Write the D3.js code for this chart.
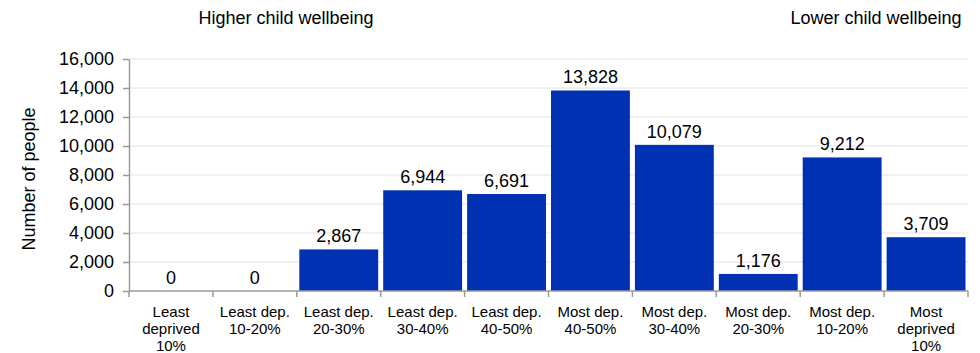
<!DOCTYPE html>
<html>
<head>
<meta charset="utf-8">
<script src="https://cdn.jsdelivr.net/npm/d3@7"></script>
<style>
  body { margin: 0; background: #fff; }
  svg { font-family: "Liberation Sans", Arial, sans-serif; }
</style>
</head>
<body>
<svg width="980" height="353"></svg>
<script>
// chart data
const categories = [
  ["Least", "deprived", "10%"],
  ["Least dep.", "10-20%"],
  ["Least dep.", "20-30%"],
  ["Least dep.", "30-40%"],
  ["Least dep.", "40-50%"],
  ["Most dep.", "40-50%"],
  ["Most dep.", "30-40%"],
  ["Most dep.", "20-30%"],
  ["Most dep.", "10-20%"],
  ["Most", "deprived", "10%"]
];
const people = [0, 0, 2867, 6944, 6691, 13828, 10079, 1176, 9212, 3709];
const yTicks = [0, 2000, 4000, 6000, 8000, 10000, 12000, 14000, 16000];

const svg = d3.select("svg");
const margin = {top: 59, right: 12, bottom: 62, left: 129};
const plotW = 980 - margin.left - margin.right;
const plotH = 353 - margin.top - margin.bottom;

const g = svg.append("g")
    .attr("transform", `translate(${margin.left}, ${margin.top})`);

const x = d3.scaleBand()
    .domain(d3.range(categories.length))
    .range([0, plotW])
    .paddingInner(0.06)
    .paddingOuter(0.03);

const y = d3.scaleLinear()
    .domain([0, 16000])
    .range([plotH, 0]);

// gridlines
g.selectAll(".grid").data(yTicks.slice(1)).enter().append("line")
    .attr("x1", 0).attr("x2", plotW)
    .attr("y1", d => y(d)).attr("y2", d => y(d))
    .attr("stroke", "#ececec")
    .attr("stroke-width", 1.5);

// bars
g.selectAll("rect").data(people).enter().append("rect")
    .attr("x", (d, i) => x(i))
    .attr("y", d => y(d))
    .attr("width", x.bandwidth())
    .attr("height", d => plotH - y(d))
    .attr("fill", "#0031b3");

// value labels
const fmt = d3.format(",");
g.selectAll(".val").data(people).enter().append("text")
    .attr("x", (d, i) => x(i) + x.bandwidth() / 2)
    .attr("y", d => y(d) - 7)
    .attr("text-anchor", "middle")
    .attr("font-size", "18px")
    .attr("fill", "#000")
    .text(d => fmt(d));

// y axis
const yAxis = g.append("g")
    .call(d3.axisLeft(y).tickValues(yTicks).tickFormat(fmt).tickSize(6).tickSizeOuter(0));
yAxis.select(".domain").attr("stroke", "#9a9a9a").attr("stroke-width", 1.5);
yAxis.selectAll(".tick line").attr("stroke", "#9a9a9a").attr("stroke-width", 1.5);
yAxis.selectAll(".tick text")
    .attr("font-size", "18px")
    .attr("font-family", "Liberation Sans, Arial, sans-serif")
    .attr("fill", "#000")
    .attr("x", -15);

// x axis line and ticks between categories
const step = plotW / categories.length;
g.append("line")
    .attr("x1", 0).attr("x2", plotW)
    .attr("y1", plotH).attr("y2", plotH)
    .attr("stroke", "#9a9a9a").attr("stroke-width", 1.5);
g.selectAll(".xt").data(d3.range(categories.length + 1)).enter().append("line")
    .attr("x1", d => d * step).attr("x2", d => d * step)
    .attr("y1", plotH).attr("y2", plotH + 6)
    .attr("stroke", "#9a9a9a").attr("stroke-width", 1.5);

// category labels
const catLabels = g.selectAll(".cat").data(categories).enter().append("text")
    .attr("text-anchor", "middle")
    .attr("font-size", "15px")
    .attr("fill", "#000")
    .attr("transform", (d, i) => `translate(${x(i) + x.bandwidth() / 2}, ${plotH + 26})`);
catLabels.selectAll("tspan").data(d => d).enter().append("tspan")
    .attr("x", 0)
    .attr("dy", (d, i) => i === 0 ? 0 : 17)
    .text(d => d);

// y title
svg.append("text")
    .attr("transform", `translate(35, ${margin.top + plotH / 2 + 4}) rotate(-90)`)
    .attr("text-anchor", "middle")
    .attr("font-size", "18px")
    .attr("fill", "#000")
    .text("Number of people");

// top annotations
svg.append("text")
    .attr("x", 286).attr("y", 24)
    .attr("text-anchor", "middle")
    .attr("font-size", "18px")
    .attr("fill", "#000")
    .text("Higher child wellbeing");

svg.append("text")
    .attr("x", 876).attr("y", 24)
    .attr("text-anchor", "middle")
    .attr("font-size", "18px")
    .attr("fill", "#000")
    .text("Lower child wellbeing");
</script>
</body>
</html>
